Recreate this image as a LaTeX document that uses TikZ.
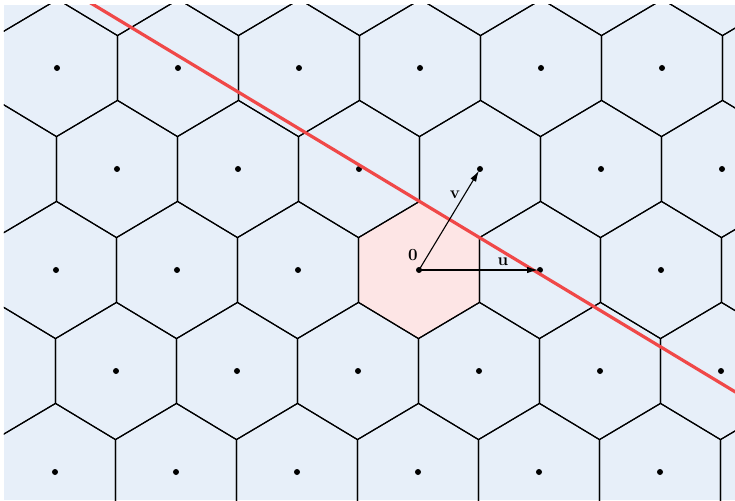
\documentclass[tikz,border=0pt]{standalone}
\usepackage{fontspec}
\setmainfont{Latin Modern Roman}
\usetikzlibrary{arrows.meta,calc}
\definecolor{bgblue}{HTML}{E7EFF9}
\definecolor{cellpink}{HTML}{FDE5E5}
\definecolor{redln}{HTML}{F04848}
\begin{document}
\begin{tikzpicture}[x=1pt,y=1pt,
  celledge/.style={draw=black,line width=1.15pt,line join=miter},
  latpt/.style={fill=black},
  vecarrow/.style={line width=1.1pt,-{Latex[length=11pt,width=6.5pt]},shorten >=2pt},
  lbl/.style={font=\fontsize{17}{20}\selectfont\bfseries,inner sep=1pt},
  cutline/.style={draw=redln,line width=3.2pt}]
\useasboundingbox (-419,-230) rectangle (316,270);
\fill[bgblue] (-415,-230) rectangle (316,265);
\begin{scope}
\clip (-415,-230) rectangle (316,265);
\fill[cellpink] (60.5,32.4) -- (0.5,68.6) -- (-60.5,32.4) -- (-60.5,-32.4) -- (-0.5,-68.6) -- (60.5,-32.4) -- cycle;
\foreach \i in {-6,...,6}{
  \foreach \j in {-3,...,3}{
    \begin{scope}[shift={(\i*121+\j*61,\j*101)}]
      \draw[celledge] (60.5,32.4) -- (0.5,68.6) -- (-60.5,32.4) -- (-60.5,-32.4) -- (-0.5,-68.6) -- (60.5,-32.4) -- cycle;
      \fill[latpt] (0,0) circle (3);
    \end{scope}
  }
}
\coordinate (B) at (0.5,68.6);
\coordinate (A) at (60.5,32.4);
\draw[cutline] ($(B)!-12!(A)$) -- ($(B)!12!(A)$);
\end{scope}
\coordinate (O) at (0,0);
\coordinate (U) at (121,0);
\coordinate (V) at (61,101);
\draw[vecarrow] (O) -- (U);
\draw[vecarrow] (O) -- (V);
\node[lbl] (l0) at (-6,14.5) {0};
\node[lbl] (lu) at (84,8) {u};
\node[lbl] (lv) at (36,75) {v};
\end{tikzpicture}
\end{document}
